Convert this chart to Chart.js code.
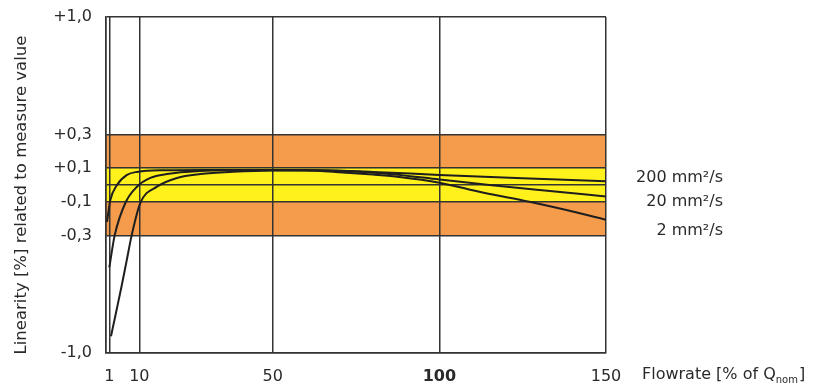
<!DOCTYPE html>
<html>
<head>
<meta charset="utf-8">
<script src="https://cdn.jsdelivr.net/npm/chart.js@4.4.1/dist/chart.umd.min.js"></script>
<style>
  html, body { margin: 0; padding: 0; background: #fff; }
  #wrap { width: 823px; height: 391px; }
</style>
</head>
<body>
<div id="wrap"><canvas id="linChart" width="823" height="391"></canvas></div>
<script>
// values
const xTicks = [0, 1, 10, 50, 100, 150];
const yTicks = [-1, -0.3, -0.1, 0, 0.1, 0.3, 1];
const seriesLabels = ["200 mm²/s", "20 mm²/s", "2 mm²/s"];

// 200 mm²/s - deepest drop at low flow, ends highest
const flow200 = [1.5, 3, 4.7, 6.2, 7.7, 10.3, 15.3, 21.3, 28.3, 38.2, 50, 65, 80, 100, 125, 150];
const lin200 = [-0.9, -0.76, -0.6, -0.45, -0.3, -0.107, -0.01, 0.042, 0.065, 0.079, 0.087, 0.088, 0.078, 0.06, 0.04, 0.022];

// 20 mm²/s
const flow20 = [1.0, 2.6, 5.8, 9.3, 13.3, 18.3, 28.3, 40, 55, 70, 85, 100, 115, 130, 150];
const lin20 = [-0.49, -0.3, -0.107, -0.01, 0.042, 0.065, 0.083, 0.088, 0.09, 0.084, 0.066, 0.033, 0.0, -0.03, -0.068];

// 2 mm²/s - fastest rise, ends lowest
const flow2 = [0.3, 1.3, 3.3, 6.3, 9.3, 18, 30, 45, 60, 71, 80, 88, 100, 113, 127, 140, 150];
const lin2 = [-0.22, -0.09, 0.0, 0.06, 0.078, 0.088, 0.09, 0.09, 0.088, 0.075, 0.062, 0.048, 0.014, -0.045, -0.1, -0.158, -0.207];

const orangeBand = [-0.3, 0.3];
const yellowBand = [-0.1, 0.1];

const FONT = "'DejaVu Sans', sans-serif";
const TEXT = "#2a2a2a";
const LINE = "#333";

Chart.defaults.font.family = FONT;
Chart.defaults.font.size = 16;
Chart.defaults.color = TEXT;

function toPoints(xs, ys) {
  return xs.map((x, i) => ({ x: x, y: ys[i] }));
}

function curve(label, xs, ys) {
  return {
    label: label,
    data: toPoints(xs, ys),
    borderColor: "#1e1e1e",
    borderWidth: 2,
    pointRadius: 0,
    fill: false,
    cubicInterpolationMode: "monotone",
  };
}

/**
 * Tolerance bands behind the grid
 */
const bandsPlugin = {
  id: "bands",
  beforeDraw(chart) {
    const { ctx, chartArea, scales } = chart;
    const y = scales.y;
    ctx.save();
    ctx.fillStyle = "#f59c4c";
    ctx.fillRect(chartArea.left, y.getPixelForValue(orangeBand[1]),
      chartArea.right - chartArea.left, y.getPixelForValue(orangeBand[0]) - y.getPixelForValue(orangeBand[1]));
    ctx.fillStyle = "#fff21c";
    ctx.fillRect(chartArea.left, y.getPixelForValue(yellowBand[1]),
      chartArea.right - chartArea.left, y.getPixelForValue(yellowBand[0]) - y.getPixelForValue(yellowBand[1]));
    ctx.restore();
  },
};

/**
 * Axis titles and curve labels
 */
const textPlugin = {
  id: "texts",
  afterDraw(chart) {
    const { ctx, chartArea, scales } = chart;
    const y = scales.y;
    ctx.save();
    ctx.fillStyle = TEXT;

    // y title, rotated
    ctx.save();
    ctx.font = "16.5px " + FONT;
    ctx.translate(22, (chartArea.top + chartArea.bottom) / 2 + 10);
    ctx.rotate(-Math.PI / 2);
    ctx.textAlign = "center";
    ctx.textBaseline = "middle";
    ctx.fillText("Linearity [%] related to measure value", 0, 0);
    ctx.restore();

    // x title with subscript
    ctx.font = "16px " + FONT;
    const tx = chartArea.right + 36;
    const ty = chartArea.bottom + 22;
    ctx.textAlign = "left";
    ctx.textBaseline = "middle";
    const part1 = "Flowrate [% of Q";
    ctx.fillText(part1, tx, ty);
    let w = ctx.measureText(part1).width;
    ctx.font = "10px " + FONT;
    ctx.fillText("nom", tx + w, ty + 5);
    w += ctx.measureText("nom").width;
    ctx.font = "16px " + FONT;
    ctx.fillText("]", tx + w + 1, ty);

    // curve labels, right aligned
    const labelAt = [0.042, -0.1, -0.27];
    ctx.textAlign = "right";
    seriesLabels.forEach((lbl, i) => {
      ctx.fillText(lbl, chartArea.right + 117, y.getPixelForValue(labelAt[i]));
    });
    ctx.restore();
  },
};

const chart = new Chart(document.getElementById("linChart"), {
  type: "line",
  data: {
    datasets: [
      curve(seriesLabels[0], flow200, lin200),
      curve(seriesLabels[1], flow20, lin20),
      curve(seriesLabels[2], flow2, lin2),
    ],
  },
  options: {
    responsive: false,
    devicePixelRatio: 1,
    animation: false,
    layout: { padding: { top: 17, right: 217, bottom: 0, left: 0 } },
    plugins: {
      legend: { display: false },
      tooltip: { enabled: false },
    },
    scales: {
      x: {
        type: "linear",
        min: 0,
        max: 150,
        afterBuildTicks: scale => { scale.ticks = xTicks.map(v => ({ value: v })); },
        afterFit: scale => {
          scale.height = 38;
          scale.paddingLeft = 0;
          scale.paddingRight = 0;
        },
        grid: { color: LINE, lineWidth: 1.5, drawTicks: false },
        border: { display: true, color: LINE, width: 1.5 },
        ticks: {
          padding: 14,
          maxRotation: 0,
          autoSkip: false,
          color: TEXT,
          font: ctx => (ctx.tick && ctx.tick.value === 100 ? { size: 16, weight: "bold" } : { size: 16 }),
          callback: v => (v === 0 ? "" : String(v)),
        },
      },
      y: {
        type: "linear",
        min: -1,
        max: 1,
        afterBuildTicks: scale => { scale.ticks = yTicks.map(v => ({ value: v })); },
        afterFit: scale => {
          scale.width = 106;
          scale.paddingTop = 0;
          scale.paddingBottom = 0;
        },
        grid: { color: LINE, lineWidth: 1.5, drawTicks: false },
        border: { display: true, color: LINE, width: 1.5 },
        ticks: {
          padding: 14,
          autoSkip: false,
          color: TEXT,
          callback: v => (v === 0 ? "" : (v > 0 ? "+" : "") + v.toFixed(1).replace(".", ",")),
        },
      },
    },
  },
  plugins: [bandsPlugin, textPlugin],
});
</script>
</body>
</html>
